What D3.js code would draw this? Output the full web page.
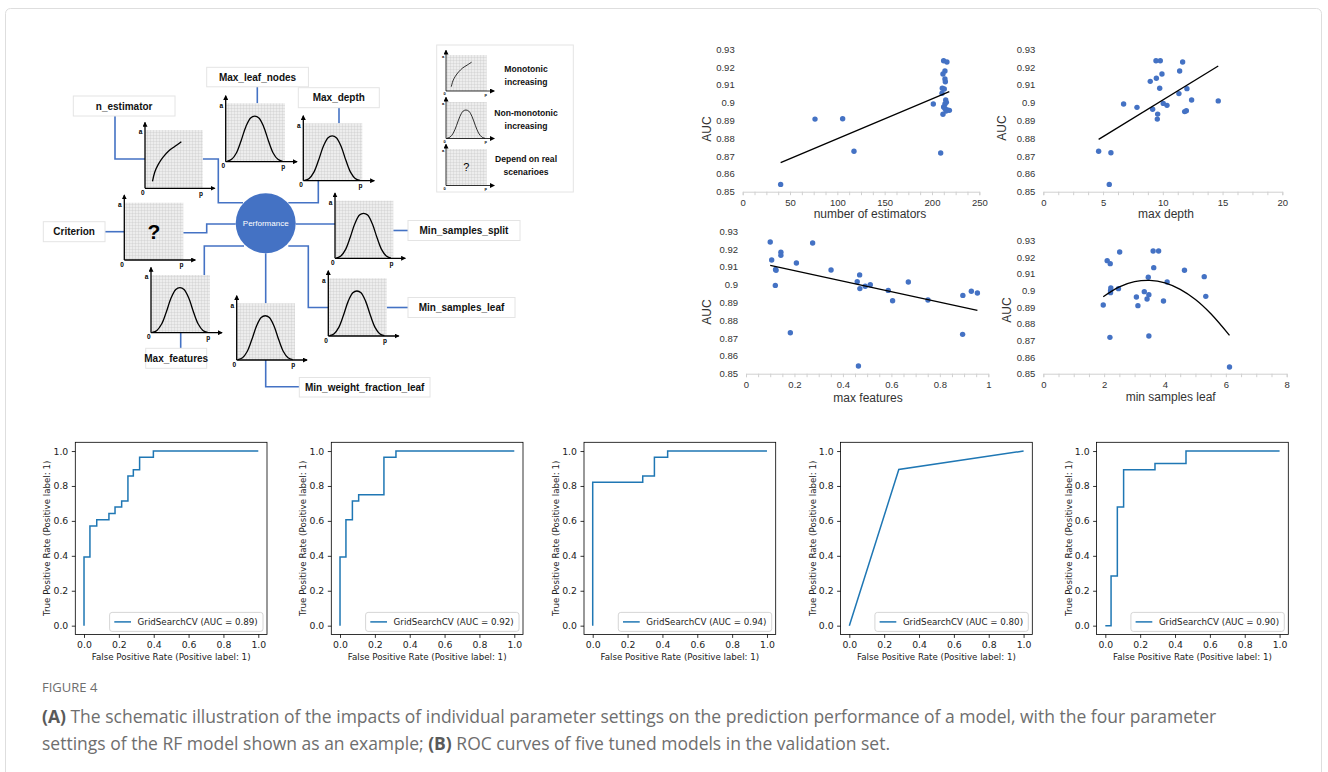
<!DOCTYPE html>
<html><head><meta charset="utf-8">
<script src="https://cdn.jsdelivr.net/npm/d3@7"></script>
<style>body{margin:0;background:#fff}svg{display:block}</style>
</head><body><svg id="c" width="1328" height="772"></svg>
<script>
// ---------------- DATA ----------------
// Panel A right: scatter plots of AUC vs hyper-parameter
const aucTicks = [0.85,0.86,0.87,0.88,0.89,0.90,0.91,0.92,0.93];
const aucTickLabels = ["0.85","0.86","0.87","0.88","0.89","0.9","0.91","0.92","0.93"];

const estX = [40.1,76.4,105.6,117.6,201.4,209.2,212.3,215.8,213.7,211.6,213.7,214.1,210.9,213.0,210.6,214.5,215.2,213.7,212.3,213.7,216.2,218.4,214.8,211.6];
const estAUC = [0.8541,0.8908,0.8910,0.8727,0.8993,0.8717,0.9236,0.9229,0.9178,0.9161,0.9133,0.9118,0.9081,0.9077,0.9053,0.9015,0.9002,0.8993,0.8976,0.8968,0.8959,0.8957,0.8953,0.8935];
const estTrend = [[40.1,0.8663],[218.3,0.9062]];
const estTicks = [0,50,100,150,200,250];

const depthX = [4.63,5.66,5.52,6.72,7.84,8.95,9.46,9.43,9.79,9.93,9.74,9.15,9.57,9.54,10.04,10.35,11.41,11.66,11.35,12.02,12.41,11.83,11.97,14.64];
const depthAUC = [0.8727,0.8719,0.8541,0.8993,0.8974,0.9120,0.9137,0.9236,0.9236,0.9161,0.9081,0.8963,0.8936,0.8908,0.8996,0.8985,0.9178,0.9229,0.9051,0.9079,0.9015,0.8950,0.8955,0.9010];
const depthTrend = [[4.63,0.8794],[14.64,0.9206]];
const depthTicks = [0,5,10,15,20];

const featX = [0.100,0.106,0.144,0.144,0.122,0.124,0.121,0.183,0.208,0.275,0.351,0.459,0.469,0.470,0.492,0.513,0.464,0.587,0.605,0.670,0.751,0.894,0.895,0.930,0.955];
const featAUC = [0.9240,0.9139,0.9182,0.9165,0.9086,0.9081,0.8996,0.8730,0.9122,0.9234,0.9083,0.9017,0.9055,0.8978,0.8991,0.9000,0.8543,0.8968,0.8910,0.9015,0.8914,0.8721,0.8940,0.8963,0.8953];
const featTrend = [[0.1,0.9109],[0.955,0.8856]];
const featTicks = [0,0.2,0.4,0.6,0.8,1];

const leafX = [1.97,2.10,2.20,2.19,2.22,2.21,2.21,2.51,2.47,3.06,3.11,3.32,3.41,3.47,3.45,3.47,3.61,3.79,3.63,3.95,4.07,4.64,5.29,5.34,6.12];
const leafAUC = [0.8912,0.9178,0.9160,0.8718,0.9014,0.8998,0.8986,0.9230,0.9010,0.8960,0.8908,0.8992,0.8948,0.8974,0.9078,0.8726,0.9236,0.9236,0.9136,0.8936,0.9050,0.9120,0.9082,0.8964,0.8540];
const leafTrend = [[1.97,0.8962],[2.5,0.9021],[3.0,0.9052],[3.5,0.9060],[4.0,0.9045],[4.5,0.9006],[5.0,0.8945],[5.5,0.8861],[6.12,0.8730]];
const leafTicks = [0,2,4,6,8];

const scatterTitles = ["number of estimators","max depth","max features","min samples leaf"];

// Panel B: ROC curves
const roc1FPR = [0,0,0.034,0.034,0.073,0.073,0.143,0.143,0.178,0.178,0.216,0.216,0.252,0.252,0.283,0.283,0.319,0.319,0.398,0.398,1];
const roc1TPR = [0,0.393,0.393,0.571,0.571,0.607,0.607,0.643,0.643,0.679,0.679,0.714,0.714,0.857,0.857,0.893,0.893,0.964,0.964,1,1];
const roc2FPR = [0,0,0.034,0.034,0.071,0.071,0.107,0.107,0.252,0.252,0.321,0.321,1];
const roc2TPR = [0,0.393,0.393,0.607,0.607,0.714,0.714,0.750,0.750,0.964,0.964,1,1];
const roc3FPR = [0,0,0.287,0.287,0.354,0.354,0.430,0.430,1];
const roc3TPR = [0,0.821,0.821,0.857,0.857,0.964,0.964,1,1];
const roc4FPR = [0,0.284,1];
const roc4TPR = [0,0.894,1];
const roc5FPR = [0,0.033,0.033,0.069,0.069,0.105,0.105,0.285,0.285,0.463,0.463,1];
const roc5TPR = [0,0,0.285,0.285,0.679,0.679,0.893,0.893,0.929,0.929,1,1];
const rocAUC = ["0.89","0.92","0.94","0.80","0.90"];
const rocTicks = [0,0.2,0.4,0.6,0.8,1.0];

// Schematic shapes (normalized)
const bellShape = [[0.02,0.005],[0.1,0.04],[0.18,0.15],[0.26,0.36],[0.34,0.6],[0.42,0.75],[0.49,0.78],[0.56,0.75],[0.64,0.6],[0.72,0.36],[0.8,0.15],[0.88,0.04],[0.96,0.005]];
const monoShape = [[0.13,0.12],[0.17,0.28],[0.23,0.41],[0.31,0.53],[0.41,0.64],[0.52,0.72],[0.63,0.8]];
const paramNames = ["n_estimator","Max_leaf_nodes","Max_depth","Criterion","Min_samples_split","Min_samples_leaf","Max_features","Min_weight_fraction_leaf"];
const legendTexts = [["Monotonic","increasing"],["Non-monotonic","increasing"],["Depend on real","scenarioes"]];

// ---------------- DRAW ----------------
const svg = d3.select('#c');
const BLUE = '#4472C4';
svg.append('rect').attr('width',1328).attr('height',772).attr('fill','#fff');
svg.append('rect').attr('x',5.5).attr('y',8.5).attr('width',1316).attr('height',800).attr('rx',5)
  .attr('fill','none').attr('stroke','#dedede');

const defs = svg.append('defs');
const pat = defs.append('pattern').attr('id','grid').attr('width',3).attr('height',3).attr('patternUnits','userSpaceOnUse');
pat.append('rect').attr('width',3).attr('height',3).attr('fill','#ededed');
pat.append('path').attr('d','M3 0 L0 0 0 3').attr('fill','none').attr('stroke','#c2c2c2').attr('stroke-width',0.6);
defs.append('marker').attr('id','arr').attr('viewBox','0 0 6 6').attr('refX',5).attr('refY',3)
  .attr('markerWidth',5).attr('markerHeight',5).attr('markerUnits','userSpaceOnUse').attr('orient','auto')
  .append('path').attr('d','M0,0 L6,3 L0,6 Z').attr('fill','#000');

const SANS = '"Liberation Sans", Arial, sans-serif';

// ---- schematic ----
const sch = svg.append('g').style('font-family',SANS);
const connectors = [
 [[115,116],[115,159],[145,159]],
 [[202.7,159],[218.3,159],[218.3,202.7],[243,202.7]],
 [[257.3,86.7],[257.3,103.3]],
 [[339,107.7],[339,123.3]],
 [[318.3,180.7],[318.3,202.7],[288.3,202.7]],
 [[105,231.7],[124.3,231.7]],
 [[183.3,232.7],[206.7,232.7],[206.7,224],[235.7,224]],
 [[295.7,224],[335,224]],
 [[393.3,230.5],[408,230.5]],
 [[244,246],[204.3,246],[204.3,275]],
 [[180.7,332.7],[180.7,348.3]],
 [[265.7,253.3],[265.7,303.3]],
 [[265.7,360],[265.7,386.7],[299.3,386.7]],
 [[288.3,246],[308.3,246],[308.3,307.5],[328.3,307.5]],
 [[386.7,307.5],[408,307.5]]
];
sch.selectAll('.conn').data(connectors).join('path').attr('class','conn')
  .attr('d',d=>d3.line()(d)).attr('fill','none').attr('stroke',BLUE).attr('stroke-width',1.6);

function mini(g,x,y,w,h,kind,s){
  s = s||1;
  g.append('rect').attr('x',x).attr('y',y).attr('width',w).attr('height',h).attr('fill','url(#grid)');
  const sx = d3.scaleLinear().domain([0,1]).range([x,x+w]);
  const sy = d3.scaleLinear().domain([0,1]).range([y+h,y]);
  g.append('line').attr('x1',x).attr('y1',y+h).attr('x2',x+w+12*s).attr('y2',y+h)
    .attr('stroke','#000').attr('stroke-width',1.3*s).attr('marker-end','url(#arr)');
  g.append('line').attr('x1',x).attr('y1',y+h).attr('x2',x).attr('y2',y-7.5*s)
    .attr('stroke','#000').attr('stroke-width',1.3*s).attr('marker-end','url(#arr)');
  const fs = 6.5*s;
  g.append('text').attr('x',x-4.5*s).attr('y',y+2*s).attr('dy','0.35em').attr('text-anchor','middle')
    .attr('font-size',fs).attr('font-weight','bold').text('a');
  g.append('text').attr('x',x-2.3*s).attr('y',y+h+4.5*s).attr('dy','0.35em').attr('text-anchor','middle')
    .attr('font-size',fs).attr('font-weight','bold').text('0');
  g.append('text').attr('x',x+w-1.7*s).attr('y',y+h+5*s).attr('dy','0.35em').attr('text-anchor','middle')
    .attr('font-size',fs).attr('font-weight','bold').text('p');
  const line = d3.line().x(d=>sx(d[0])).y(d=>sy(d[1])).curve(d3.curveCatmullRom);
  if(kind==='bell') g.append('path').attr('d',line(bellShape)).attr('fill','none').attr('stroke','#000').attr('stroke-width',1.3*s);
  if(kind==='mono') g.append('path').attr('d',line(monoShape)).attr('fill','none').attr('stroke','#000').attr('stroke-width',1.3*s);
  if(kind==='q') g.append('text').attr('x',x+w*0.5).attr('y',y+h*0.5).attr('dy','0.35em').attr('text-anchor','middle')
    .attr('font-size',s<1?11:21).attr('font-weight',s<1?'normal':'bold').text('?');
}
const miniLayout = [
  [145,130,57.7,58.3,'mono'],
  [225.7,103.3,59.3,58.4,'bell'],
  [303.3,123.3,59,57.4,'bell'],
  [124.3,202.7,59,57.3,'q'],
  [335,200.7,58.3,57.6,'bell'],
  [328.3,278.3,58.4,57.7,'bell'],
  [151,275,59,57.7,'bell'],
  [236.7,303.3,58.3,56.7,'bell']
];
miniLayout.forEach(m=>mini(sch,m[0],m[1],m[2],m[3],m[4],1));

sch.append('circle').attr('cx',265.7).attr('cy',223.3).attr('r',30).attr('fill',BLUE);
sch.append('text').attr('x',265.7).attr('y',223.3).attr('dy','0.35em').attr('text-anchor','middle')
  .attr('font-size',8).attr('fill','#fff').text('Performance');

const labelBoxes = [
  [73.3,96,101.7,20],
  [206.7,67.3,101.7,19.5],
  [298.3,87.7,81,20],
  [43.3,221.7,61.7,20],
  [408,220.5,112,20],
  [408,297.5,107,20],
  [145.7,348.3,61,20],
  [299.3,377.5,130.7,19.5]
];
paramNames.forEach((n,i)=>{
  const b = labelBoxes[i];
  sch.append('rect').attr('x',b[0]).attr('y',b[1]).attr('width',b[2]).attr('height',b[3])
    .attr('fill','#fff').attr('stroke','#e4e4e4');
  sch.append('text').attr('x',b[0]+b[2]/2).attr('y',b[1]+b[3]/2).attr('dy','0.35em').attr('text-anchor','middle')
    .attr('font-size',10).attr('font-weight','bold').attr('fill','#111').text(n);
});

// legend of schematic
sch.append('rect').attr('x',436.7).attr('y',45).attr('width',136.6).attr('height',147).attr('fill','#fff').attr('stroke','#e4e4e4');
const legMini = [[446,55,40.7,36,'mono'],[446,102,40.7,36.5,'bell'],[446,149,40.7,36.5,'q']];
legMini.forEach(m=>mini(sch,m[0],m[1],m[2],m[3],m[4],0.62));
const legTextY = [[69.3,81.5],[113.3,126],[158.5,172]];
legendTexts.forEach((t,i)=>t.forEach((s,j)=>{
  sch.append('text').attr('x',526).attr('y',legTextY[i][j]).attr('dy','0.35em').attr('text-anchor','middle')
    .attr('font-size',8.6).attr('font-weight','bold').attr('fill','#111').text(s);
}));

// ---- scatter plots ----
const scatterData = [
  {xs:estX,ys:estAUC,trend:estTrend,ticks:estTicks,dom:[0,250],minor:12.5,curve:d3.curveLinear},
  {xs:depthX,ys:depthAUC,trend:depthTrend,ticks:depthTicks,dom:[0,20],minor:1.25,curve:d3.curveLinear},
  {xs:featX,ys:featAUC,trend:featTrend,ticks:featTicks,dom:[0,1],minor:0.05,curve:d3.curveLinear},
  {xs:leafX,ys:leafAUC,trend:leafTrend,ticks:leafTicks,dom:[0,8],minor:0.5,curve:d3.curveCatmullRom}
];
const scatterLayout = [
  {left:742.7,right:979.3,top:49.3,bottom:191.7,xl:[870,213.3],yl:[706.7,129]},
  {left:1043.3,right:1282.3,top:49.3,bottom:191.7,xl:[1166,213.3],yl:[1001.7,128]},
  {left:746,right:988.3,top:231.3,bottom:373.7,xl:[868,398],yl:[706.7,312]},
  {left:1043.3,right:1286.7,top:240.3,bottom:373.7,xl:[1170.7,397],yl:[1006.7,310]}
];
scatterData.forEach((d,i)=>{
  const L = scatterLayout[i];
  const x = d3.scaleLinear().domain(d.dom).range([L.left,L.right]);
  const y = d3.scaleLinear().domain([0.85,0.93]).range([L.bottom,L.top]);
  const g = svg.append('g').style('font-family',SANS);
  const minorVals = d3.range(0, Math.round((d.dom[1]-d.dom[0])/d.minor)+1).map(k=>d.dom[0]+k*d.minor);
  const gm = g.append('g').attr('transform',`translate(0,${L.bottom})`)
    .call(d3.axisBottom(x).tickValues(minorVals).tickSize(3.5).tickFormat(''));
  gm.select('.domain').attr('stroke','#d0d0d0');
  gm.selectAll('.tick line').attr('stroke','#d0d0d0');
  const gx = g.append('g').attr('transform',`translate(0,${L.bottom})`)
    .call(d3.axisBottom(x).tickValues(d.ticks).tickSize(0).tickPadding(7.5).tickFormat(v=>String(v)));
  gx.select('.domain').remove();
  gx.selectAll('text').attr('font-size',9.5).attr('fill','#333').style('font-family',SANS);
  const gy = g.append('g').attr('transform',`translate(${L.left},0)`)
    .call(d3.axisLeft(y).tickValues(aucTicks).tickSize(0).tickPadding(8).tickFormat((v,k)=>aucTickLabels[k]));
  gy.select('.domain').remove();
  gy.selectAll('text').attr('font-size',9.5).attr('fill','#333').style('font-family',SANS);
  g.selectAll('.pt').data(d.xs.map((v,k)=>[v,d.ys[k]])).join('circle').attr('class','pt')
    .attr('cx',p=>x(p[0])).attr('cy',p=>y(p[1])).attr('r',2.7).attr('fill',BLUE);
  g.append('path').attr('d',d3.line().x(p=>x(p[0])).y(p=>y(p[1])).curve(d.curve)(d.trend))
    .attr('fill','none').attr('stroke','#000').attr('stroke-width',1.3);
  g.append('text').attr('x',L.xl[0]).attr('y',L.xl[1]).attr('dy','0.35em').attr('text-anchor','middle')
    .attr('font-size',12).attr('fill','#333').text(scatterTitles[i]);
  g.append('text').attr('transform',`translate(${L.yl[0]},${L.yl[1]}) rotate(-90)`).attr('dy','0.35em')
    .attr('text-anchor','middle').attr('font-size',12).attr('fill','#333').text('AUC');
});

// ---- ROC curves ----
const rocSets = [[roc1FPR,roc1TPR],[roc2FPR,roc2TPR],[roc3FPR,roc3TPR],[roc4FPR,roc4TPR],[roc5FPR,roc5TPR]];
const rocLefts = [75.3,331.3,584,840.6,1096.6];
const rocW = 191.7, rocTop = 442.3, rocH = 192.1;
const DJ = '"DejaVu Sans", sans-serif';
rocSets.forEach((r,i)=>{
  const Lx = rocLefts[i];
  const x = d3.scaleLinear().domain([-0.05,1.05]).range([Lx,Lx+rocW]);
  const y = d3.scaleLinear().domain([-0.05,1.05]).range([rocTop+rocH,rocTop]);
  const g = svg.append('g').style('font-family',DJ);
  const gx = g.append('g').attr('transform',`translate(0,${rocTop+rocH})`)
    .call(d3.axisBottom(x).tickValues(rocTicks).tickSize(3.5).tickPadding(3.5).tickFormat(d3.format('.1f')));
  gx.select('.domain').remove();
  gx.selectAll('.tick line').attr('stroke','#000').attr('stroke-width',0.8);
  gx.selectAll('text').attr('font-size',9.3).attr('fill','#222').style('font-family',DJ);
  const gy = g.append('g').attr('transform',`translate(${Lx},0)`)
    .call(d3.axisLeft(y).tickValues(rocTicks).tickSize(3.5).tickPadding(3.5).tickFormat(d3.format('.1f')));
  gy.select('.domain').remove();
  gy.selectAll('.tick line').attr('stroke','#000').attr('stroke-width',0.8);
  gy.selectAll('text').attr('font-size',9.3).attr('fill','#222').style('font-family',DJ);
  g.append('path').attr('d',d3.line().x(p=>x(p[0])).y(p=>y(p[1]))(r[0].map((v,k)=>[v,r[1][k]])))
    .attr('fill','none').attr('stroke','#1f77b4').attr('stroke-width',1.5);
  g.append('rect').attr('x',Lx).attr('y',rocTop).attr('width',rocW).attr('height',rocH)
    .attr('fill','none').attr('stroke','#000').attr('stroke-width',0.8);
  // legend
  const lw = 153.4, lh = 19, lx = Lx+rocW-4-lw, ly = rocTop+rocH-3-lh;
  g.append('rect').attr('x',lx).attr('y',ly).attr('width',lw).attr('height',lh).attr('rx',2.5)
    .attr('fill','#fff').attr('fill-opacity',0.85).attr('stroke','#cccccc').attr('stroke-width',0.8);
  g.append('line').attr('x1',lx+4.7).attr('x2',lx+21.4).attr('y1',ly+lh/2).attr('y2',ly+lh/2)
    .attr('stroke','#1f77b4').attr('stroke-width',1.5);
  g.append('text').attr('x',lx+28).attr('y',ly+lh/2).attr('dy','0.35em').attr('font-size',8.7).attr('fill','#222')
    .text(`GridSearchCV (AUC = ${rocAUC[i]})`);
  g.append('text').attr('x',Lx+rocW/2).attr('y',rocTop+rocH+26).attr('text-anchor','middle')
    .attr('font-size',8.7).attr('fill','#222').text('False Positive Rate (Positive label: 1)');
  g.append('text').attr('transform',`translate(${Lx-28},${rocTop+rocH/2}) rotate(-90)`).attr('dy','0.35em')
    .attr('text-anchor','middle').attr('font-size',8.7).attr('fill','#222').text('True Positive Rate (Positive label: 1)');
});

// ---- caption ----
const cap = svg.append('g').style('font-family','"Open Sans", "Noto Sans", sans-serif').attr('fill','#6e6e6e');
cap.append('text').attr('x',42).attr('y',692).attr('font-size',13).text('FIGURE 4');
const c1 = cap.append('text').attr('x',42).attr('y',723).attr('font-size',17.5);
c1.append('tspan').attr('font-weight','bold').attr('fill','#5a5a5a').text('(A)');
c1.append('tspan').text(' The schematic illustration of the impacts of individual parameter settings on the prediction performance of a model, with the four parameter');
const c2 = cap.append('text').attr('x',42).attr('y',750).attr('font-size',17.5);
c2.append('tspan').text('settings of the RF model shown as an example; ');
c2.append('tspan').attr('font-weight','bold').attr('fill','#5a5a5a').text('(B)');
c2.append('tspan').text(' ROC curves of five tuned models in the validation set.');
</script></body></html>
